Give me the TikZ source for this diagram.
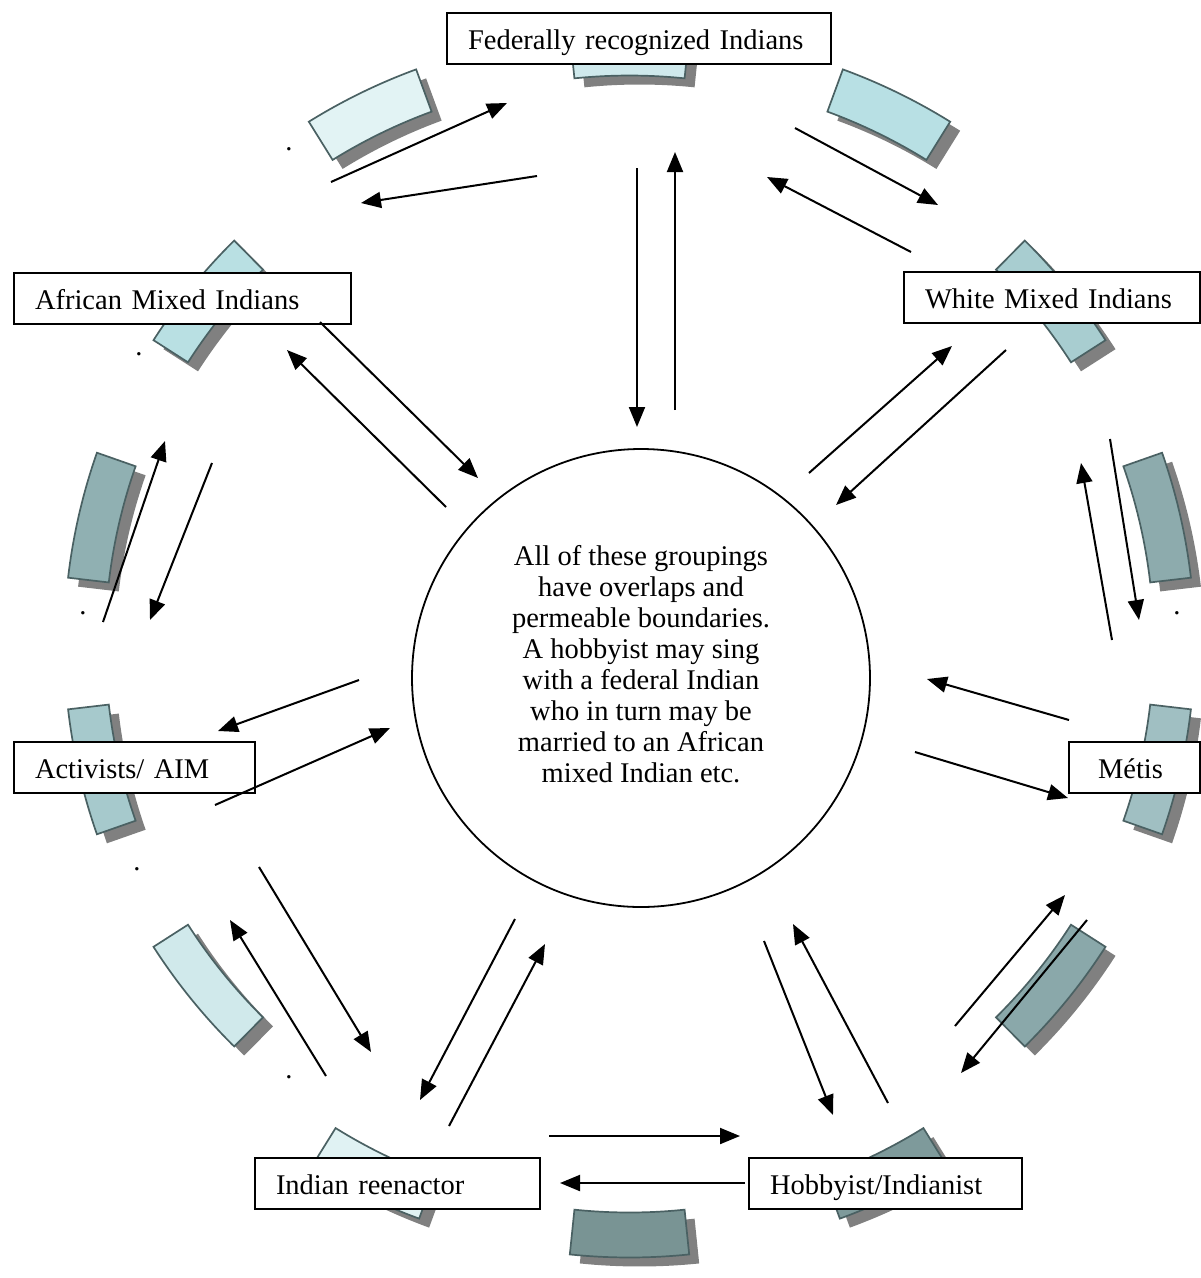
\documentclass[tikz,border=0pt]{standalone}
\usepackage{fontspec}
\setmainfont{Liberation Serif}
\usetikzlibrary{arrows.meta}

% curved tile with its drop shadow: centre (x,y) in page pixels (y downwards),
% outward direction, length, thickness, fill colour
\newcommand\arctile[6]{%
  \pgfmathsetmacro\tilehalf{(#4/2)/560*180/pi}%
  \pgfmathsetmacro\tilein{560-#5/2}%
  \pgfmathsetmacro\tileout{560+#5/2}%
  \begin{scope}[shift={(#1+10,-#2-9)},rotate=#3-90,shift={(0,-560)}]
    \fill[tileshadow] (90+\tilehalf:\tileout) arc[start angle=90+\tilehalf,end angle=90-\tilehalf,radius=\tileout]
      -- (90-\tilehalf:\tilein) arc[start angle=90-\tilehalf,end angle=90+\tilehalf,radius=\tilein] -- cycle;
  \end{scope}
  \begin{scope}[shift={(#1,-#2)},rotate=#3-90,shift={(0,-560)}]
    \draw[tileedge,fill=#6] (90+\tilehalf:\tileout) arc[start angle=90+\tilehalf,end angle=90-\tilehalf,radius=\tileout]
      -- (90-\tilehalf:\tilein) arc[start angle=90-\tilehalf,end angle=90+\tilehalf,radius=\tilein] -- cycle;
  \end{scope}%
}

\definecolor{tileline}{HTML}{4A6163}
\definecolor{tA}{HTML}{CFE9EC}
\definecolor{tB}{HTML}{E2F3F4}
\definecolor{tC}{HTML}{B8E0E4}
\definecolor{tD}{HTML}{B9E0E3}
\definecolor{tE}{HTML}{A8CDD0}
\definecolor{tF}{HTML}{90B0B2}
\definecolor{tG}{HTML}{8DABAD}
\definecolor{tH}{HTML}{A6C9CC}
\definecolor{tI}{HTML}{A0BFC2}
\definecolor{tJ}{HTML}{D0E9EB}
\definecolor{tK}{HTML}{8AA8AA}
\definecolor{tL}{HTML}{E0F2F3}
\definecolor{tM}{HTML}{7E9A9B}
\definecolor{tN}{HTML}{799494}

\begin{document}
\begin{tikzpicture}[x=1pt,y=1pt,
  tileshadow/.style={fill=black!50},
  tileedge/.style={draw=tileline,line width=1.7pt},
  lbl/.style={draw,line width=2pt,fill=white,rectangle,anchor=north west,
    inner xsep=21pt,inner ysep=12pt,text height=24pt,text depth=3pt,align=left,
    font=\fontsize{28.5}{31}\selectfont},
  link/.style={line width=2pt,-{Triangle[length=20pt,width=16pt]}},
  dotmark/.style={font=\fontsize{28.5}{31}\selectfont,inner sep=0pt,anchor=base},
]
\useasboundingbox (0,-1278) rectangle (1201,0);
\fill[white] (0,-1278) rectangle (1201,0);

% ring of curved tiles
\arctile{629.5}{53}{90}{115}{45}{tA}
\arctile{371}{113}{116}{115}{45}{tB}
\arctile{888}{113}{64}{115}{45}{tC}
\arctile{207}{301}{141}{124}{41}{tD}
\arctile{1052}{301}{39}{124}{41}{tE}
\arctile{99}{519}{167}{124}{41}{tF}
\arctile{1160}{519}{13}{124}{41}{tG}
\arctile{99}{768}{193}{124}{41}{tH}
\arctile{1160}{768}{-13}{124}{41}{tI}
\arctile{207}{986}{219}{124}{41}{tJ}
\arctile{1052}{986}{-39}{124}{41}{tK}
\arctile{374}{1175}{244}{115}{45}{tL}
\arctile{885}{1175}{-64}{115}{45}{tM}
\arctile{629.5}{1235}{270}{115}{45}{tN}

% group labels
\node[lbl,text width=342pt] (fed) at (446,-12) {Federally recognized Indians};
\node[lbl,text width=295pt] (afr) at (13,-272) {African Mixed Indians};
\node[lbl,text width=254pt] (wht) at (903,-271) {White Mixed Indians};
\node[lbl,text width=199pt] (act) at (13,-741) {Activists/ AIM};
\node[lbl,text width=89pt] (met) at (1068,-741) {\hspace*{8pt}Métis};
\node[lbl,text width=243pt] (ree) at (254,-1157) {Indian reenactor};
\node[lbl,text width=231pt] (hob) at (748,-1157) {Hobbyist/Indianist};

% central circle
\node[draw,circle,line width=1.8pt,minimum size=458pt,inner sep=0pt] (hub) at (641,-678) {};
\node[align=center,font=\fontsize{28.5}{31}\selectfont,inner sep=0pt] (hubtext) at (641,-664)
  {All of these groupings\\have overlaps and\\permeable boundaries.\\A hobbyist may sing\\with a federal Indian\\who in turn may be\\married to an African\\mixed Indian etc.};

% stray full stops
\node[dotmark] (d1) at (289,-150) {.};
\node[dotmark] (d2) at (139,-355) {.};
\node[dotmark] (d3) at (83,-614) {.};
\node[dotmark] (d4) at (1177,-614) {.};
\node[dotmark] (d5) at (137,-870) {.};
\node[dotmark] (d6) at (289,-1078) {.};

% arrow end points
\coordinate (p1a) at (331,-182);  \coordinate (q1a) at (507,-103);
\coordinate (p1b) at (537,-176);  \coordinate (q1b) at (361,-203);
\coordinate (p2a) at (795,-128);  \coordinate (q2a) at (938,-205);
\coordinate (p2b) at (911,-252);  \coordinate (q2b) at (767,-177);
\coordinate (p3a) at (637,-168);  \coordinate (q3a) at (637,-427);
\coordinate (p3b) at (675,-410);  \coordinate (q3b) at (675,-152);
\coordinate (p4a) at (320,-322);  \coordinate (q4a) at (478,-478);
\coordinate (p4b) at (446,-507);  \coordinate (q4b) at (287,-350);
\coordinate (p5a) at (809,-473);  \coordinate (q5a) at (952,-346);
\coordinate (p5b) at (1006,-350); \coordinate (q5b) at (836,-505);
\coordinate (p6a) at (103,-622);  \coordinate (q6a) at (165,-441);
\coordinate (p6b) at (212,-463);  \coordinate (q6b) at (150,-620);
\coordinate (p7a) at (1110,-439); \coordinate (q7a) at (1139,-620);
\coordinate (p7b) at (1112,-640); \coordinate (q7b) at (1081,-463);
\coordinate (p8a) at (359,-680);  \coordinate (q8a) at (218,-731);
\coordinate (p8b) at (215,-805);  \coordinate (q8b) at (390,-728);
\coordinate (p9a) at (1069,-720); \coordinate (q9a) at (927,-679);
\coordinate (p9b) at (915,-752);  \coordinate (q9b) at (1068,-798);
\coordinate (p10a) at (326,-1076); \coordinate (q10a) at (230,-920);
\coordinate (p10b) at (259,-867);  \coordinate (q10b) at (371,-1052);
\coordinate (p11a) at (515,-919);  \coordinate (q11a) at (420,-1100);
\coordinate (p11b) at (449,-1126); \coordinate (q11b) at (545,-944);
\coordinate (p12a) at (764,-941);  \coordinate (q12a) at (833,-1115);
\coordinate (p12b) at (888,-1103); \coordinate (q12b) at (793,-924);
\coordinate (p13a) at (955,-1026); \coordinate (q13a) at (1065,-895);
\coordinate (p13b) at (1087,-920); \coordinate (q13b) at (961,-1073);
\coordinate (p14a) at (549,-1136); \coordinate (q14a) at (740,-1136);
\coordinate (p14b) at (745,-1183); \coordinate (q14b) at (560,-1183);

\foreach \k in {1,...,14}{
  \draw[link] (p\k a) -- (q\k a);
  \draw[link] (p\k b) -- (q\k b);
}
\end{tikzpicture}
\end{document}
